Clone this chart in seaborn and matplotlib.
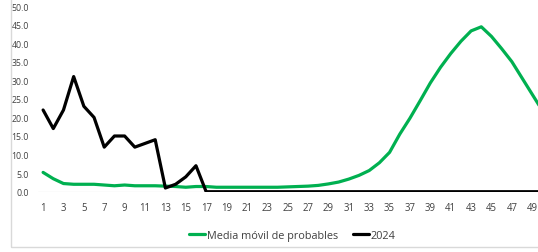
import numpy as np
import pandas as pd
import matplotlib
matplotlib.use("Agg")
import matplotlib.pyplot as plt
import seaborn as sns
from matplotlib.patches import Rectangle

# Semanas epidemiologicas visibles
semanas = list(range(1, 51))

# Media movil de probables (verde)
media_movil = [5.2, 3.5, 2.2, 2.0, 2.0, 2.0, 1.8, 1.6, 1.8, 1.6,
               1.6, 1.6, 1.5, 1.4, 1.2, 1.4, 1.4, 1.2, 1.2, 1.2,
               1.2, 1.2, 1.2, 1.2, 1.3, 1.4, 1.5, 1.7, 2.1, 2.6,
               3.4, 4.4, 5.7, 7.8, 10.6, 15.5, 19.8, 24.5, 29.3, 33.5,
               37.2, 40.5, 43.3, 44.4, 41.8, 38.5, 35.0, 30.6, 26.2, 21.8]

# Casos 2024 (negro)
casos_2024 = [22, 17, 22, 31, 23, 20, 12, 15, 15, 12,
              13, 14, 1, 2, 4, 7, 0, 0, 0, 0,
              0, 0, 0, 0, 0, 0, 0, 0, 0, 0,
              0, 0, 0, 0, 0, 0, 0, 0, 0, 0,
              0, 0, 0, 0, 0, 0, 0, 0, 0, 0]

etiquetas_x = list(range(1, 50, 2))
etiquetas_y = [0, 5, 10, 15, 20, 25, 30, 35, 40, 45, 50]

df = pd.DataFrame({
    "semana": semanas * 2,
    "valor": media_movil + casos_2024,
    "serie": ["Media móvil de probables"] * len(semanas) + ["2024"] * len(semanas),
})

sns.set_style("white")
plt.rcParams["font.family"] = ["Open Sans", "DejaVu Sans"]

fig = plt.figure(figsize=(5.38, 2.53), dpi=100)
# marco gris claro del grafico
fig.patches.append(Rectangle((11 / 538, 5 / 253), 2.0, 2.0, transform=fig.transFigure,
                             fill=False, edgecolor="#d9d9d9", linewidth=1.0))

ax = fig.add_axes([38 / 538, 0.2383, 0.985, 0.734])
ax.axhline(0, color="#bfbfbf", linewidth=0.8, zorder=1)
sns.lineplot(data=df, x="semana", y="valor", hue="serie",
             palette={"Media móvil de probables": "#00B050", "2024": "black"},
             linewidth=2.3, ax=ax, legend=False, zorder=3)

ax.set_xlim(0.5, 52.5)
ax.set_ylim(0, 50)
ax.set_xticks(etiquetas_x)
ax.set_yticks(etiquetas_y)
ax.set_yticklabels([f"{v:.1f}" for v in etiquetas_y])
ax.tick_params(axis="x", labelsize=6.9, length=0, pad=7.5, colors="#404040")
ax.tick_params(axis="y", labelsize=6.3, length=0, pad=6.5, colors="#404040")
ax.set_xlabel("")
ax.set_ylabel("")
for s in ax.spines.values():
    s.set_visible(False)

handles = [plt.Line2D([], [], color="#00B050", linewidth=2.3),
           plt.Line2D([], [], color="black", linewidth=2.3)]
fig.legend(handles, ["Media móvil de probables", "2024"], loc="center",
           bbox_to_anchor=(0.543, 0.067), ncol=2, frameon=False, fontsize=7.8,
           handlelength=1.5, handletextpad=0.1, columnspacing=1.4,
           labelcolor="#404040")

fig.savefig("out.png", dpi=100)
